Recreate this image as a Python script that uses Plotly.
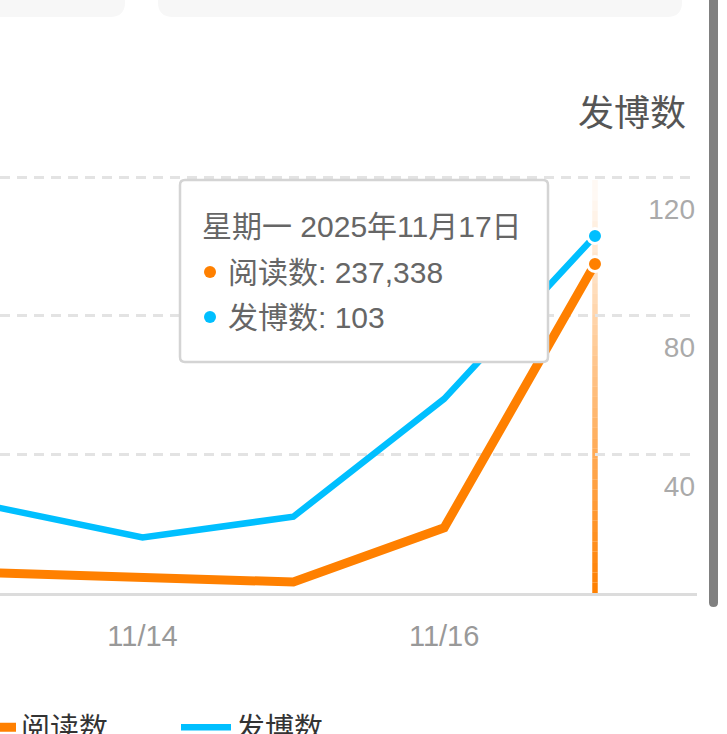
import pandas as pd
import plotly.graph_objects as go

# data (11/13 point sits just left of the visible area)
dates = ["2025-11-13", "2025-11-14", "2025-11-15", "2025-11-16", "2025-11-17"]
reads = [14600, 11200, 7900, 47000, 237338]   # 阅读数 (left axis, hidden)
posts = [25, 16, 22, 56, 103]                 # 发博数 (right axis)
post_ticks = [40, 80, 120]
hover_label = "星期一 2025年11月17日"

ORANGE = "#ff8000"
BLUE = "#00bfff"
FONT = "Liberation Sans, Noto Sans CJK SC, sans-serif"

W, H = 727, 734
L, R, T, B = 0, 697, 168, 593          # plot area in pixels
px_per_post = (593 - 177) / 120
day_px = 150.8

def px(x):
    return (x - L) / (R - L)

def py(y):
    return (B - y) / (B - T)

def rounded(x0, y0, x1, y1, r, top=True, bottom=True):
    # rounded rectangle path in paper coords, given pixel corners
    rt = r if top else 0
    rb = r if bottom else 0
    p = [f"M{px(x0 + rt)},{py(y0)}", f"L{px(x1 - rt)},{py(y0)}"]
    if rt:
        p.append(f"Q{px(x1)},{py(y0)} {px(x1)},{py(y0 + rt)}")
    p.append(f"L{px(x1)},{py(y1 - rb)}")
    if rb:
        p.append(f"Q{px(x1)},{py(y1)} {px(x1 - rb)},{py(y1)}")
    p.append(f"L{px(x0 + rb)},{py(y1)}")
    if rb:
        p.append(f"Q{px(x0)},{py(y1)} {px(x0)},{py(y1 - rb)}")
    p.append(f"L{px(x0)},{py(y0 + rt)}")
    if rt:
        p.append(f"Q{px(x0)},{py(y0)} {px(x0 + rt)},{py(y0)}")
    p.append("Z")
    return " ".join(p)

def dot(cx, cy, r, color):
    return dict(type="circle", xref="paper", yref="paper", layer="above",
                x0=px(cx - r), x1=px(cx + r), y0=py(cy + r), y1=py(cy - r),
                fillcolor=color, line=dict(width=0))

x = pd.to_datetime(dates)
hover_x = x[-1]
x_start = pd.Timestamp("2025-11-14") - pd.Timedelta(days=142.5 / day_px)
x_end = hover_x + pd.Timedelta(days=(R - 595) / day_px)
y2_top = (B - T) / px_per_post
y_top = y2_top * 2500

fig = go.Figure()
fig.add_trace(go.Scatter(x=x, y=reads, name="阅读数", mode="lines",
                         line=dict(color=ORANGE, width=9), yaxis="y"))
fig.add_trace(go.Scatter(x=x, y=posts, name="发博数", mode="lines",
                         line=dict(color=BLUE, width=6.5), yaxis="y2"))
# hovered points
fig.add_trace(go.Scatter(x=[hover_x], y=[reads[-1]], mode="markers", showlegend=False,
                         marker=dict(color=ORANGE, size=15, line=dict(color="white", width=3)),
                         yaxis="y"))
fig.add_trace(go.Scatter(x=[hover_x], y=[posts[-1]], mode="markers", showlegend=False,
                         marker=dict(color=BLUE, size=15, line=dict(color="white", width=3)),
                         yaxis="y2"))

shapes = []
# crosshair: fades out towards the top
cross_top = (B - 180) / px_per_post
n = 40
for i in range(n):
    shapes.append(dict(type="line", xref="x", yref="y2", layer="below",
                       x0=hover_x, x1=hover_x,
                       y0=cross_top * i / n, y1=cross_top * (i + 1) / n,
                       line=dict(color=ORANGE, width=5.5),
                       opacity=max(0.04, 1 - (i + 0.5) / n)))

# top cards, scrollbar
shapes.append(dict(type="path", xref="paper", yref="paper", layer="above",
                   path=rounded(-30, -30, 125, 17, 15, top=False),
                   fillcolor="#f7f7f7", line=dict(width=0)))
shapes.append(dict(type="path", xref="paper", yref="paper", layer="above",
                   path=rounded(158, -30, 682, 17, 15, top=False),
                   fillcolor="#f7f7f7", line=dict(width=0)))
shapes.append(dict(type="path", xref="paper", yref="paper", layer="above",
                   path=rounded(709, -10, 718, 607, 4.5, top=False),
                   fillcolor="#808080", line=dict(width=0)))
# tooltip box + its colour dots
shapes.append(dict(type="path", xref="paper", yref="paper", layer="above",
                   path=rounded(180, 180, 548, 362, 5),
                   fillcolor="white", line=dict(color="#d4d4d4", width=2.5)))
shapes.append(dot(210, 272, 6, ORANGE))
shapes.append(dot(210, 317, 6, BLUE))

tip_font = dict(size=30, color="#666666", family=FONT)
annotations = [
    dict(text="发博数", xref="paper", yref="paper", x=px(688), y=py(113),
         xanchor="right", yanchor="middle", showarrow=False,
         font=dict(size=36, color="#555555", family=FONT)),
    dict(text=hover_label, xref="paper", yref="paper", x=px(200), y=py(226),
         xanchor="left", yanchor="middle", showarrow=False, font=tip_font),
    dict(text=f"阅读数: {reads[-1]:,}", xref="paper", yref="paper", x=px(226), y=py(272),
         xanchor="left", yanchor="middle", showarrow=False, font=tip_font),
    dict(text=f"发博数: {posts[-1]}", xref="paper", yref="paper", x=px(226), y=py(317),
         xanchor="left", yanchor="middle", showarrow=False, font=tip_font),
]

fig.update_layout(
    width=W, height=H,
    margin=dict(l=L, r=W - R, t=T, b=H - B, autoexpand=False),
    paper_bgcolor="white", plot_bgcolor="white",
    font=dict(family=FONT),
    xaxis=dict(type="date", range=[x_start, x_end], tickformat="%m/%d",
               tick0="2025-11-14", dtick=2 * 86400000, showgrid=False,
               showline=True, linecolor="#dcdcdc", linewidth=3,
               ticks="", ticklabelstandoff=15,
               tickfont=dict(size=29, color="#999999", family=FONT)),
    yaxis=dict(range=[0, y_top], showgrid=False, showticklabels=False,
               zeroline=False, fixedrange=True),
    yaxis2=dict(range=[0, y2_top], overlaying="y", side="right",
                tickvals=post_ticks, showgrid=True, gridcolor="#e3e3e3",
                gridwidth=2.5, griddash="10px,7px", zeroline=False,
                ticks="", ticklabelposition="inside", ticklabelshift=32,
                ticklabelstandoff=-1,
                tickfont=dict(size=28, color="#aaaaaa", family=FONT)),
    showlegend=True,
    legend=dict(orientation="h", x=px(-39), y=py(702), xanchor="left", yanchor="top",
                itemwidth=50, entrywidth=150, bgcolor="rgba(0,0,0,0)",
                font=dict(size=29, color="#333333", family=FONT)),
    shapes=shapes,
    annotations=annotations,
)

fig.write_html("out.html", config={"displayModeBar": False},
               post_script="document.body.style.margin='0';")
